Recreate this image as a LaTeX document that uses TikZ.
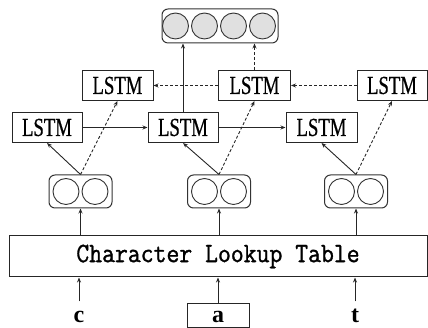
\documentclass[tikz,border=0pt]{standalone}
\usepackage{fontspec}
\usepackage{graphicx}
\usetikzlibrary{arrows.meta}
\newfontfamily\lstmfont[FakeStretch=0.72,FakeBold=0.6]{Liberation Serif}
\newfontfamily\letterfont{Liberation Serif}
\newfontfamily\tablefont[FakeBold=1.2]{Latin Modern Mono}

\begin{document}
\begin{tikzpicture}[x=1pt,y=1pt,
  box/.style={draw=black!85, line width=1pt, inner sep=0pt, fill=white},
  lstm/.style={box, minimum height=30pt, font=\lstmfont\fontsize{26}{26}\selectfont},
  pair/.style={draw=black!80, line width=1pt, rounded corners=6pt, minimum height=33pt, inner sep=0pt},
  unit/.style={circle, draw=black!80, line width=0.9pt, minimum size=26pt, inner sep=0pt},
  arr/.style={-{Stealth[length=5pt,width=4pt]}, line width=0.9pt, draw=black!85},
  darr/.style={arr, dash pattern=on 3pt off 2pt},
  letter/.style={font=\letterfont\bfseries\fontsize{24}{24}\selectfont, inner sep=2pt}
]
\useasboundingbox (0,0) rectangle (428,328);

% output layer
\node[pair, minimum width=116pt, minimum height=34pt] (out) at (220,302) {};
\foreach \i/\dx in {1/-44.5,2/-15.5,3/13.5,4/42.5}
  \node[unit, fill=black!12] (o\i) at ([xshift=\dx pt]out.center) {};

% LSTM cells, backward row (top) and forward row (bottom)
\node[lstm, minimum width=71pt] (lu) at (117.5,242.5) {LSTM};
\node[lstm, minimum width=72pt] (um) at (254.5,242.5) {LSTM};
\node[lstm, minimum width=70pt] (ur) at (392,242.5) {LSTM};
\node[lstm, minimum width=70pt] (ll) at (47,200.5) {LSTM};
\node[lstm, minimum width=70pt] (lm) at (183,200.5) {LSTM};
\node[lstm, minimum width=71pt] (lr) at (321.5,200.5) {LSTM};

% character embeddings
\foreach \n/\x in {e1/80.5,e2/219,e3/356}{
  \node[pair, minimum width=63pt] (\n) at (\x,136.5) {};
  \node[unit] (\n l) at ([xshift=-14.5pt]\n.center) {};
  \node[unit] (\n r) at ([xshift=14.5pt]\n.center) {};
}

% lookup table
\node[box, minimum width=418pt, minimum height=41pt] (table) at (218,71.5)
  {\tablefont\fontsize{25}{25}\selectfont\scalebox{1}[1.12]{Character Lookup Table}};

% input characters
\node[letter, anchor=base] (c) at (79,5) {c};
\node[box, minimum width=62pt, minimum height=24pt] (abox) at (218,12) {};
\node[letter, anchor=base] (a) at (218,5) {a};
\node[letter, anchor=base] (t) at (355,5) {t};

% inputs into the table
\draw[arr] ([yshift=8pt]c.north) -- (c.north |- table.south);
\draw[arr] (abox.north) -- (abox.north |- table.south);
\draw[arr] ([yshift=6pt]t.north) -- (t.north |- table.south);

% table to embeddings
\foreach \n in {e1,e2,e3}
  \draw[arr] (\n.south |- table.north) -- (\n.south);

% embeddings to LSTM cells
\draw[arr] (e1.north) -- (ll.south);
\draw[darr] (e1.north) -- (lu.south);
\draw[arr] (e2.north) -- (lm.south);
\draw[darr] (e2.north) -- (um.south);
\draw[arr] (e3.north) -- (lr.south);
\draw[darr] (e3.north) -- (ur.south);

% recurrent connections
\draw[arr] (ll.east) -- (lm.west);
\draw[arr] (lm.east) -- (lr.west);
\draw[darr] (ur.west) -- (um.east);
\draw[darr] (um.west) -- (lu.east);

% to the output layer
\draw[arr] (lm.north) -- (lm.north |- out.south);
\draw[darr] (um.north) -- (um.north |- out.south);
\end{tikzpicture}
\end{document}
